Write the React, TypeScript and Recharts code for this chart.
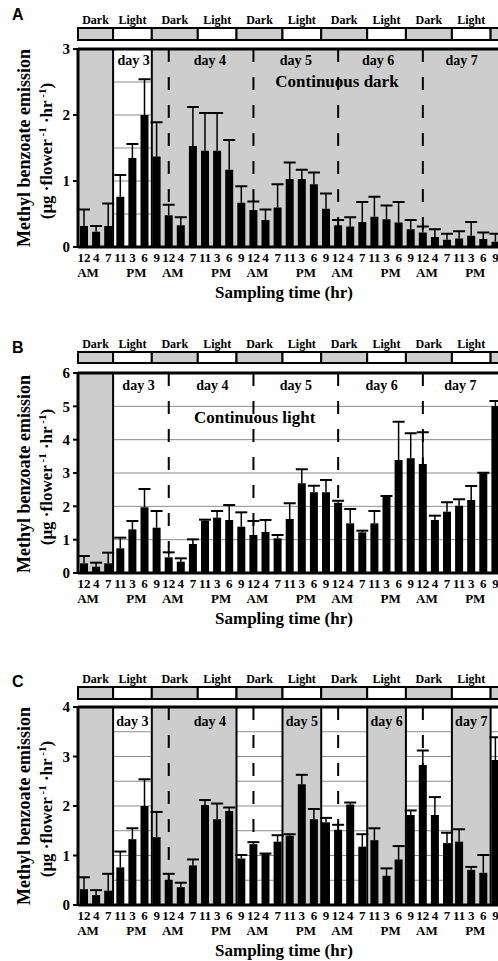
import React from 'react';
import { ComposedChart, Bar, XAxis, YAxis, ReferenceArea, ReferenceLine } from 'recharts';

const SERIF = '"Liberation Serif", "Times New Roman", Times, serif';
const SANS = '"Liberation Sans", Arial, Helvetica, sans-serif';

// Sampling times (5 days x 7 samples)
const hourLabels = [
  '12', '4', '7', '11', '3', '6', '9',
  '12', '4', '7', '11', '3', '6', '9',
  '12', '4', '7', '11', '3', '6', '9',
  '12', '4', '7', '11', '3', '6', '9',
  '12', '4', '7', '11', '3', '6', '9',
];
const periodLabels = [
  'AM', '', '', '', 'PM', '', '',
  'AM', '', '', '', 'PM', '', '',
  'AM', '', '', '', 'PM', '', '',
  'AM', '', '', '', 'PM', '', '',
  'AM', '', '', '', 'PM', '', '',
];

// Panel A: continuous dark
const aMean = [0.32, 0.23, 0.32, 0.76, 1.35, 2.0, 1.37, 0.48, 0.33, 1.53, 1.46, 1.46, 1.17, 0.67, 0.56, 0.41, 0.6, 1.03, 1.03, 0.95, 0.58, 0.33, 0.31, 0.38, 0.46, 0.42, 0.37, 0.27, 0.22, 0.15, 0.11, 0.13, 0.17, 0.12, 0.08];
const aSE = [0.25, 0.09, 0.34, 0.33, 0.21, 0.54, 0.52, 0.16, 0.12, 0.59, 0.57, 0.57, 0.45, 0.25, 0.13, 0.16, 0.35, 0.25, 0.14, 0.18, 0.23, 0.08, 0.14, 0.3, 0.3, 0.21, 0.31, 0.14, 0.09, 0.12, 0.09, 0.11, 0.21, 0.1, 0.12];

// Panel B: continuous light
const bMean = [0.29, 0.19, 0.29, 0.74, 1.31, 1.97, 1.36, 0.47, 0.34, 0.87, 1.57, 1.66, 1.59, 1.39, 1.14, 1.23, 1.04, 1.62, 2.69, 2.42, 2.42, 2.11, 1.49, 1.22, 1.49, 2.29, 3.39, 3.44, 3.27, 1.59, 1.84, 2.02, 2.19, 2.99, 5.01];
const bSE = [0.22, 0.12, 0.32, 0.32, 0.25, 0.55, 0.5, 0.15, 0.1, 0.14, 0.03, 0.2, 0.45, 0.43, 0.42, 0.36, 0.1, 0.47, 0.42, 0.2, 0.37, 0.06, 0.43, 0.05, 0.37, 0.02, 1.15, 0.75, 0.95, 0.13, 0.28, 0.19, 0.42, 0.02, 0.15];

// Panel C: reversed light regime
const cMean = [0.32, 0.2, 0.29, 0.76, 1.33, 2.0, 1.37, 0.51, 0.36, 0.8, 2.02, 1.73, 1.9, 0.94, 1.23, 1.03, 1.28, 1.4, 2.44, 1.73, 1.67, 1.52, 2.03, 1.18, 1.31, 0.59, 0.92, 1.82, 2.83, 1.82, 1.25, 1.28, 0.71, 0.65, 2.93];
const cSE = [0.24, 0.1, 0.34, 0.32, 0.22, 0.54, 0.51, 0.12, 0.09, 0.12, 0.1, 0.32, 0.07, 0.07, 0.04, 0.01, 0.13, 0.03, 0.19, 0.21, 0.09, 0.1, 0.04, 0.25, 0.24, 0.15, 0.27, 0.09, 0.29, 0.36, 0.21, 0.25, 0.06, 0.36, 0.46];

// Light/dark schedule (in sample-slot units); the last segment runs off the picture
const headerLabels = ['Dark', 'Light', 'Dark', 'Light', 'Dark', 'Light', 'Dark', 'Light', 'Dark', 'Light', ''];
const headerEdges = [0, 2.9, 6.1, 9.9, 13.1, 16.9, 20.1, 23.9, 27.1, 30.9, 34.1, 35];
const headerDark = [true, false, true, false, true, false, true, false, true, false, true];
const midnights = [7.5, 14.5, 21.5, 28.5];
const dayNames = ['day 3', 'day 4', 'day 5', 'day 6', 'day 7'];

const makeData = (mean: number[], se: number[]) =>
  mean.map((m, i) => ({ id: String(i), pos: i + 0.5, mean: m, se: se[i] }));

const HourTick = (props: any) => {
  const { x, y, payload } = props;
  const i = Number(payload.value);
  const p = periodLabels[i];
  return (
    <g>
      <text x={x} y={y + 14.5} textAnchor="middle" fontFamily={SERIF} fontWeight="bold" fontSize={13} fill="#000">
        {hourLabels[i]}
      </text>
      {p ? (
        <text x={x + 4} y={y + 30} textAnchor="middle" fontFamily={SERIF} fontWeight="bold" fontSize={13} fill="#000">
          {p}
        </text>
      ) : null}
    </g>
  );
};

const ErrShape = (props: any) => {
  const { x, y, width, height } = props;
  if (x == null || y == null) return null;
  const cx = x + width / 2;
  return (
    <g>
      <line x1={cx} x2={cx} y1={y} y2={y + height} stroke="#000" strokeWidth={1.5} />
      <line x1={cx - 6} x2={cx + 6} y1={y} y2={y} stroke="#000" strokeWidth={2} />
    </g>
  );
};

const GREY = '#cdcdcd';

type PanelProps = {
  top: number;
  marginTop: number;
  height: number;
  mean: number[];
  se: number[];
  yTicks: number[];
  yMax: number;
  domainTop: number;
  headerBottom: number;
  gridValues: number[];
  greys: number[][];
  whites: number[][];
  borders: number[];
  dayPos: number[];
  dayY: number;
  note?: { text: string; x: number; y: number };
};

function Panel(p: PanelProps) {
  const data = makeData(p.mean, p.se);
  const headerTop = p.domainTop;
  return (
    <div style={{ position: 'absolute', left: 0, top: p.top }}>
      <ComposedChart
        width={510}
        height={p.height}
        data={data}
        margin={{ top: p.marginTop, right: 8.5, bottom: 0, left: 38 }}
        barSize={8}
      >
        <XAxis
          dataKey="id"
          xAxisId="c"
          interval={0}
          tickLine={false}
          tickSize={0}
          tickMargin={0}
          axisLine={{ stroke: '#000', strokeWidth: 3 }}
          height={40}
          tick={<HourTick />}
        />
        <XAxis dataKey="pos" xAxisId="n" type="number" domain={[0, 35]} allowDataOverflow hide />
        <YAxis
          domain={[0, p.domainTop]}
          allowDataOverflow
          ticks={p.yTicks}
          interval={0}
          axisLine={false}
          tickLine={{ stroke: '#000', strokeWidth: 2 }}
          tickSize={5}
          tickMargin={3}
          width={40}
          tick={{ fill: '#000', fontSize: 15, fontWeight: 'bold', fontFamily: SERIF }}
        />

        {p.greys.map((g, i) => (
          <ReferenceArea key={'g' + i} xAxisId="n" x1={g[0]} x2={g[1]} y1={0} y2={p.yMax} fill={GREY} fillOpacity={1} stroke="none" />
        ))}

        {p.whites.flatMap((w, i) =>
          p.gridValues.map((v, j) => (
            <ReferenceLine
              key={'gl' + i + '-' + j}
              xAxisId="n"
              segment={[{ x: w[0], y: v }, { x: w[1], y: v }]}
              stroke="#8c8c8c"
              strokeWidth={1}
              zIndex={-10}
            />
          ))
        )}

        {headerLabels.map((lab, i) => (
          <ReferenceArea
            key={'h' + i}
            xAxisId="n"
            x1={headerEdges[i]}
            x2={headerEdges[i + 1]}
            y1={p.headerBottom}
            y2={headerTop}
            fill={headerDark[i] ? GREY : '#fff'}
            fillOpacity={1}
            stroke="#000"
            strokeWidth={2}
            label={lab ? { value: lab, position: 'top', offset: 4, fill: '#000', fontSize: 12, fontWeight: 'bold', fontFamily: SERIF } : undefined}
          />
        ))}

        <Bar xAxisId="c" dataKey="mean" stackId="s" fill="#000" isAnimationActive={false} />
        <Bar xAxisId="c" dataKey="se" stackId="s" shape={ErrShape} isAnimationActive={false} />

        {p.borders.map((b, i) => (
          <ReferenceLine key={'b' + i} xAxisId="n" segment={[{ x: b, y: 0 }, { x: b, y: p.yMax }]} stroke="#000" strokeWidth={2} />
        ))}
        {midnights.map((m, i) => (
          <ReferenceLine
            key={'m' + i}
            xAxisId="n"
            segment={[{ x: m, y: p.yMax }, { x: m, y: 0 }]}
            stroke="#000"
            strokeWidth={2}
            strokeDasharray="13 15"
          />
        ))}

        <ReferenceLine xAxisId="n" segment={[{ x: 0, y: p.yMax }, { x: 35, y: p.yMax }]} stroke="#000" strokeWidth={3} />
        <ReferenceLine xAxisId="n" segment={[{ x: 0, y: 0 }, { x: 0, y: p.yMax }]} stroke="#000" strokeWidth={3} />

        {dayNames.map((d, i) => (
          <ReferenceArea
            key={'d' + i}
            xAxisId="n"
            x1={p.dayPos[i] - 0.5}
            x2={p.dayPos[i] + 0.5}
            y1={p.dayY - 0.01}
            y2={p.dayY + 0.01}
            fill="none"
            fillOpacity={0}
            stroke="none"
            label={{ value: d, position: 'center', fill: '#000', fontSize: 14, fontWeight: 'bold', fontFamily: SERIF }}
          />
        ))}
        {p.note ? (
          <ReferenceArea
            xAxisId="n"
            x1={p.note.x - 0.5}
            x2={p.note.x + 0.5}
            y1={p.note.y - 0.01}
            y2={p.note.y + 0.01}
            fill="none"
            fillOpacity={0}
            stroke="none"
            label={{ value: p.note.text, position: 'center', fill: '#000', fontSize: 17, fontWeight: 'bold', fontFamily: SERIF }}
          />
        ) : null}
      </ComposedChart>
    </div>
  );
}

const panelTexts = [
  { letter: 'A', letterY: 20, titleY: 148, xTitleY: 298 },
  { letter: 'B', letterY: 353, titleY: 474, xTitleY: 624 },
  { letter: 'C', letterY: 687, titleY: 806, xTitleY: 956 },
];

export default function App() {
  return (
    <div style={{ position: 'fixed', left: 0, top: 0, width: 498, height: 961, overflow: 'hidden', background: '#fff' }}>
      <Panel
        top={0}
        marginTop={28}
        height={287}
        mean={aMean}
        se={aSE}
        yTicks={[0, 1, 2, 3]}
        yMax={3}
        domainTop={3.318}
        headerBottom={3.136}
        gridValues={[0.5, 1, 1.5, 2, 2.5]}
        greys={[[0, 2.9], [6.1, 35]]}
        whites={[[2.9, 6.1]]}
        borders={[2.9, 6.1]}
        dayPos={[4.6, 10.9, 18.0, 24.8, 31.7]}
        dayY={2.83}
        note={{ text: 'Continuous dark', x: 21.4, y: 2.52 }}
      />
      <Panel
        top={320}
        marginTop={32}
        height={293}
        mean={bMean}
        se={bSE}
        yTicks={[0, 1, 2, 3, 4, 5, 6]}
        yMax={6}
        domainTop={6.63}
        headerBottom={6.3}
        gridValues={[1, 2, 3, 4, 5]}
        greys={[[0, 2.9]]}
        whites={[[2.9, 35]]}
        borders={[2.9]}
        dayPos={[5.0, 11.1, 18.0, 25.1, 31.6]}
        dayY={5.64}
        note={{ text: 'Continuous light', x: 14.6, y: 4.68 }}
      />
      <Panel
        top={655}
        marginTop={32}
        height={290}
        mean={cMean}
        se={cSE}
        yTicks={[0, 1, 2, 3, 4]}
        yMax={4}
        domainTop={4.404}
        headerBottom={4.162}
        gridValues={[0.5, 1, 1.5, 2, 2.5, 3, 3.5]}
        greys={[[0, 2.9], [6.1, 13.1], [16.9, 20.1], [23.9, 27.1], [30.9, 34.1]]}
        whites={[[2.9, 6.1], [13.1, 16.9], [20.1, 23.9], [27.1, 30.9], [34.1, 35]]}
        borders={[2.9, 6.1, 13.1, 16.9, 20.1, 23.9, 27.1, 30.9, 34.1]}
        dayPos={[4.5, 10.9, 18.5, 25.5, 32.5]}
        dayY={3.72}
      />
      <svg width={498} height={961} style={{ position: 'absolute', left: 0, top: 0, pointerEvents: 'none' }}>
        {panelTexts.map((t) => (
          <g key={t.letter}>
            <text x={12} y={t.letterY} fontFamily={SANS} fontWeight="bold" fontSize={16} fill="#000">
              {t.letter}
            </text>
            <text
              transform={`translate(30, ${t.titleY}) rotate(-90)`}
              textAnchor="middle"
              fontFamily={SERIF}
              fontWeight="bold"
              fontSize={18}
              fill="#000"
            >
              Methyl benzoate emission
            </text>
            <text
              transform={`translate(52, ${t.titleY + 3}) rotate(-90)`}
              textAnchor="middle"
              fontFamily={SERIF}
              fontWeight="bold"
              fontSize={17}
              fill="#000"
            >
              (μg ·flower
              <tspan dy={-6} fontSize={11}> -1</tspan>
              <tspan dy={6}> ·hr</tspan>
              <tspan dy={-6} fontSize={11}> -1</tspan>
              <tspan dy={6}>)</tspan>
            </text>
            <text x={284} y={t.xTitleY} textAnchor="middle" fontFamily={SERIF} fontWeight="bold" fontSize={17} fill="#000">
              Sampling time (hr)
            </text>
          </g>
        ))}
      </svg>
    </div>
  );
}
